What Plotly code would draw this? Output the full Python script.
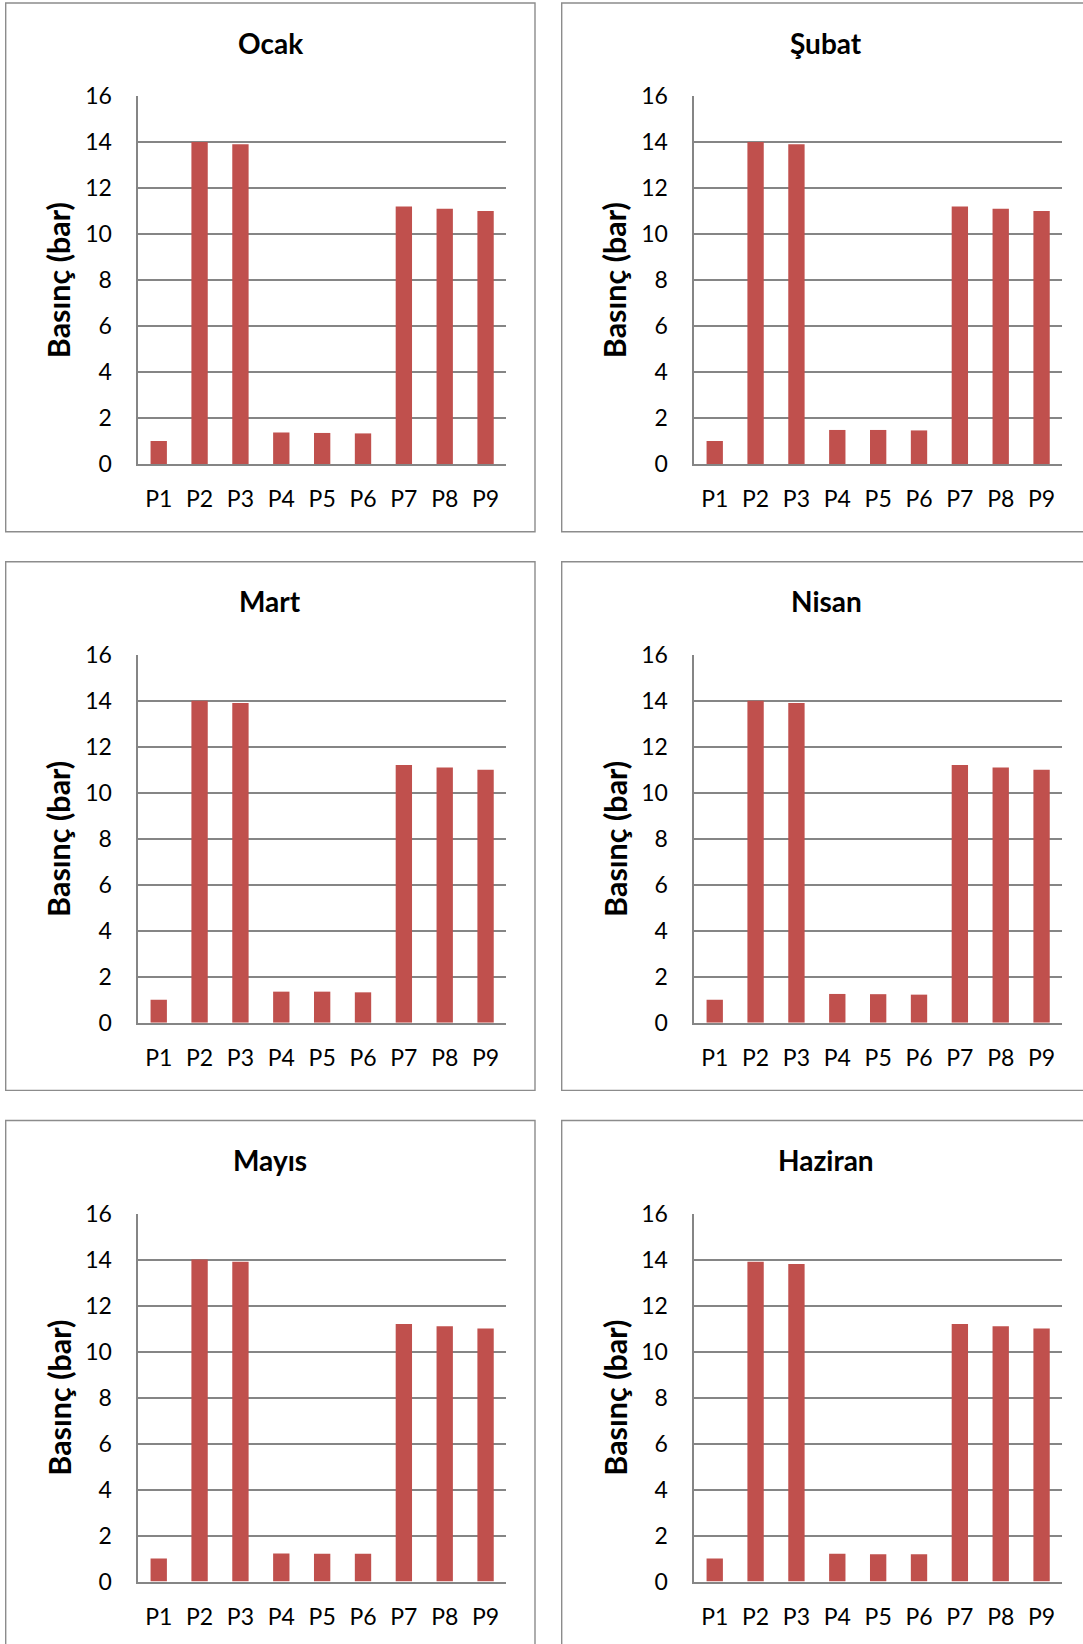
import plotly.graph_objects as go

# ---------------- data ----------------
categories = ["P1", "P2", "P3", "P4", "P5", "P6", "P7", "P8", "P9"]
months = ["Ocak", "Şubat", "Mart", "Nisan", "Mayıs", "Haziran"]
ocak = [1.0, 14.0, 13.9, 1.37, 1.35, 1.33, 11.2, 11.1, 11.0]
subat = [1.0, 14.0, 13.9, 1.48, 1.48, 1.46, 11.2, 11.1, 11.0]
mart = [1.0, 14.0, 13.9, 1.35, 1.35, 1.32, 11.2, 11.1, 11.0]
nisan = [1.0, 14.0, 13.9, 1.25, 1.24, 1.22, 11.2, 11.1, 11.0]
mayis = [1.0, 14.0, 13.9, 1.22, 1.21, 1.21, 11.2, 11.1, 11.0]
haziran = [1.0, 13.9, 13.8, 1.21, 1.19, 1.19, 11.2, 11.1, 11.0]
series = [ocak, subat, mart, nisan, mayis, haziran]
y_ticks = [0, 2, 4, 6, 8, 10, 12, 14, 16]
y_title = "Basınç (bar)"

# ---------------- layout geometry (px) ----------------
W, H = 1083, 1644
BORDER_LEFT = [5.7, 561.7]
BORDER_TOP = [3.0, 561.7, 1120.5]
BORDER_W, BORDER_H = 529.3, 528.7
PLOT_DX, PLOT_DY = 132.6, 93.0
PLOT_W, PLOT_H = 367.7, 368.0

BAR_COLOR = "#C0504D"
GRID = "#858585"
BORDER = "#8C8C8C"
FONT = "Lato"


def fx(x):
    return x / W


def fy(y):
    return 1 - y / H


fig = go.Figure()
shapes = []
annotations = []

for i, (name, vals) in enumerate(zip(months, series)):
    r, c = divmod(i, 2)
    bl, bt = BORDER_LEFT[c], BORDER_TOP[r]
    pl, pt = bl + PLOT_DX, bt + PLOT_DY
    k = "" if i == 0 else str(i + 1)
    fig.add_trace(go.Bar(x=categories, y=vals, marker=dict(color=BAR_COLOR, line=dict(width=0)),
                         xaxis="x" + k, yaxis="y" + k, showlegend=False))
    fig.update_layout(**{
        "xaxis" + k: dict(domain=[fx(pl), fx(pl + PLOT_W)], anchor="y" + k,
                          showline=True, linecolor=GRID, linewidth=1.5,
                          showgrid=False, ticks="", fixedrange=True, automargin=False,
                          tickfont=dict(family=FONT, size=23, color="#000000"),
                          ticklabelstandoff=14),
        "yaxis" + k: dict(domain=[fy(pt + PLOT_H), fy(pt)], anchor="x" + k,
                          range=[0, 16], tickvals=y_ticks, automargin=False,
                          showline=True, linecolor=GRID, linewidth=1.5,
                          showgrid=True, gridcolor=GRID, gridwidth=1.5,
                          zeroline=False, ticks="", fixedrange=True,
                          tickfont=dict(family=FONT, size=23, color="#000000"),
                          ticklabelstandoff=20),
    })
    # panel border
    shapes.append(dict(type="rect", xref="paper", yref="paper",
                       x0=fx(bl), x1=fx(bl + BORDER_W), y0=fy(bt + BORDER_H), y1=fy(bt),
                       line=dict(color=BORDER, width=1.4), fillcolor="rgba(0,0,0,0)", layer="below"))
    # title
    annotations.append(dict(text="<b>" + name + "</b>", xref="paper", yref="paper",
                            x=fx(bl + BORDER_W / 2), y=fy(bt + 39.5), xanchor="center", yanchor="middle",
                            showarrow=False, font=dict(family=FONT, size=28, color="#000000")))
    # y axis title
    annotations.append(dict(text="<b>" + y_title + "</b>", xref="paper", yref="paper",
                            x=fx(bl + 52.5), y=fy(pt + PLOT_H / 2), xanchor="center", yanchor="middle",
                            textangle=-90, showarrow=False,
                            font=dict(family=FONT, size=30.5, color="#000000")))

fig.update_layout(width=W, height=H, margin=dict(l=0, r=0, t=0, b=0),
                  paper_bgcolor="white", plot_bgcolor="white",
                  bargap=0.6, shapes=shapes, annotations=annotations,
                  font=dict(family=FONT))

fig.write_html("out.html", config={"displayModeBar": False},
               post_script="document.body.style.margin='0';")
